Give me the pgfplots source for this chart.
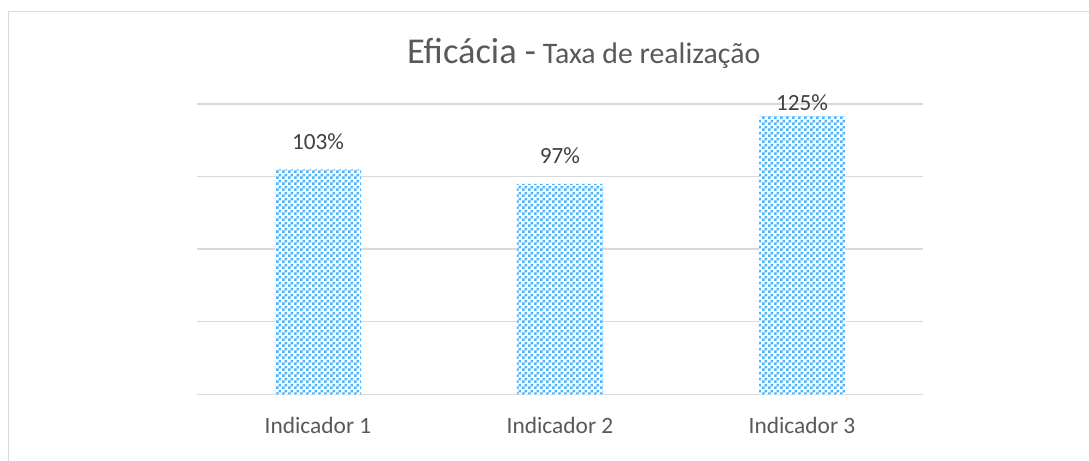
\documentclass[border=0pt]{standalone}
\usepackage{fontspec}
\setmainfont{Carlito}
\usepackage{pgfplots}
\usepackage{pgfplotstable}
\pgfplotsset{compat=1.18}
\usetikzlibrary{patterns}
\definecolor{gridgray}{HTML}{D9D9D9}
\definecolor{barblue}{RGB}{75,180,255}
\definecolor{titlegray}{HTML}{595959}
\definecolor{labelgray}{HTML}{595959}
\definecolor{datagray}{HTML}{404040}
\pgfdeclarepatternformonly{smallcheck}{\pgfpointorigin}{\pgfqpoint{3pt}{3pt}}{\pgfqpoint{3pt}{3pt}}{%
  \pgfpathrectangle{\pgfpointorigin}{\pgfqpoint{1.5pt}{1.5pt}}%
  \pgfpathrectangle{\pgfqpoint{1.5pt}{1.5pt}}{\pgfqpoint{1.5pt}{1.5pt}}%
  \pgfusepath{fill}}

\pgfplotstableread{
x v s
1 103 9.7
2 97 10.1
3 125 2.7
}\datatable

\begin{document}
\begin{tikzpicture}
\useasboundingbox (0,0) rectangle (544.5pt,230.5pt);
\clip (0,0) rectangle (544.5pt,230.5pt);
\draw[gridgray, line width=0.75pt] (4.25pt,-20pt) rectangle (620pt,224.75pt);
\node[anchor=base, text=titlegray, inner sep=0pt] at (291.85pt,198.85pt)
  {{\fontsize{18.2}{21}\selectfont Eficácia -}{\fontsize{14.9}{17}\selectfont\ Taxa de realização}};
\begin{axis}[
  at={(98.5pt,33.35pt)}, anchor=south west,
  scale only axis, width=363pt, height=145.15pt,
  xmin=0.5, xmax=3.5, ymin=0, ymax=120,
  xtick={1,2,3},
  xticklabels={Indicador 1, Indicador 2, Indicador 3},
  ytick={0,30,60,90,120}, yticklabels={},
  ymajorgrids, major grid style={draw=gridgray, line width=0.75pt},
  axis line style={draw=none}, tick style={draw=none},
  clip=false,
  xticklabel style={anchor=base, yshift=-19.5pt, font=\fontsize{11.7}{14}\selectfont, text=labelgray},
]
\addplot[ybar, bar width=43.15pt, draw=none, fill=white,
  postaction={pattern=smallcheck, pattern color=barblue},
  point meta=\thisrow{v},
  visualization depends on={\thisrow{s} \as \labshift},
  nodes near coords={\pgfmathprintnumber[assume math mode=true]{\pgfplotspointmeta}\%},
  nodes near coords align={anchor=base},
  every node near coord/.append style={anchor=base, yshift=\labshift pt, font=\fontsize{11.6}{14}\selectfont, text=datagray, inner sep=0pt},
] table[x=x, y expr=\thisrow{v}-10]{\datatable};
\end{axis}
\end{tikzpicture}
\end{document}
